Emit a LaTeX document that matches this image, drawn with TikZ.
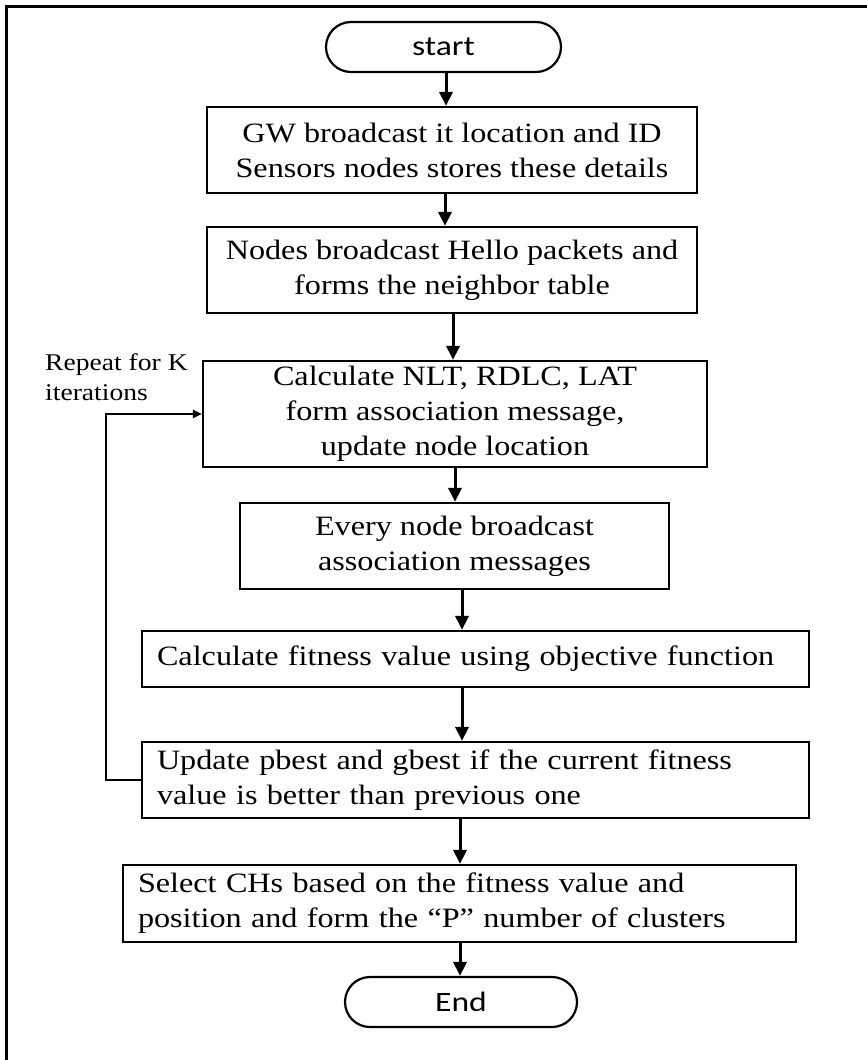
\documentclass[tikz,border=0pt]{standalone}
\usepackage{fontspec}
\setmainfont{Liberation Serif}[FakeStretch=1.15]
\newfontfamily\pillfont{Carlito}[FakeStretch=1.2]
\usetikzlibrary{arrows.meta}
\begin{document}
\begin{tikzpicture}[x=1pt,y=-1pt,
  box/.style={draw, line width=2.2pt, inner sep=0pt, font=\fontsize{28}{35}\selectfont},
  cbox/.style={box, align=center},
  lbox/.style={box, align=left, inner xsep=15pt},
  pill/.style={draw, line width=2.2pt, rounded corners=25pt, minimum height=50pt, inner sep=0pt, font=\pillfont\fontsize{28}{34}\selectfont},
  flow/.style={line width=3pt, -{Triangle[length=14pt,width=13pt]}},
  back/.style={line width=2.5pt, -{Triangle[length=9pt,width=8pt]}},
  note/.style={inner sep=0pt, align=left, font=\fontsize{24}{30}\selectfont},
]
\useasboundingbox (0,0) rectangle (867,1060);
\fill[white] (0,0) rectangle (867,1060);
% frame
\draw[line width=2.5pt] (6.5,1060) -- (6.5,6.5) -- (867,6.5);

% nodes
\node[pill, minimum width=235pt] (start) at (443.5,47) {start};
\node[cbox, minimum width=490pt, minimum height=86pt] (b1) at (452,150)
  {GW broadcast it location and ID\\Sensors nodes stores these details};
\node[cbox, minimum width=490pt, minimum height=86pt] (b2) at (452,270)
  {Nodes broadcast Hello packets and\\forms the neighbor table};
\node[cbox, minimum width=504pt, minimum height=106pt] (b3) at (455,414)
  {Calculate NLT, RDLC, LAT\\form association message,\\update node location};
\node[cbox, minimum width=429pt, minimum height=86pt] (b4) at (454.5,546)
  {Every node broadcast\\association messages};
\node[lbox, text width=637pt, minimum height=56pt] (b5) at (475.5,659)
  {Calculate fitness value using objective function};
\node[lbox, text width=637pt, minimum height=76pt] (b6) at (475.5,780)
  {Update pbest and gbest if the current fitness\\value is better than previous one};
\node[lbox, text width=643pt, minimum height=77pt] (b7) at (459.5,903.5)
  {Select CHs based on the fitness value and\\position and form the “P” number of clusters};
\node[pill, minimum width=232pt] (end) at (461,1002) {End};

\node[note, anchor=north west] (rep) at (45,353.5) {Repeat for K\\iterations};

% arrow x positions
\coordinate (a1) at (446,0);
\coordinate (a2) at (445,0);
\coordinate (a3) at (453,0);
\coordinate (a4) at (455,0);
\coordinate (a5) at (462,0);
\coordinate (a6) at (462,0);
\coordinate (a7) at (460,0);
\coordinate (a8) at (460,0);
\coordinate (lx) at (106,0);

\draw[flow] (start.south -| a1) -- (b1.north -| a1);
\draw[flow] (b1.south -| a2) -- (b2.north -| a2);
\draw[flow] (b2.south -| a3) -- (b3.north -| a3);
\draw[flow] (b3.south -| a4) -- (b4.north -| a4);
\draw[flow] (b4.south -| a5) -- (b5.north -| a5);
\draw[flow] (b5.south -| a6) -- (b6.north -| a6);
\draw[flow] (b6.south -| a7) -- (b7.north -| a7);
\draw[flow] (b7.south -| a8) -- (end.north -| a8);

% loop back
\draw[back] (b6.west) -- (b6.west -| lx) |- (b3.west);
\end{tikzpicture}
\end{document}
